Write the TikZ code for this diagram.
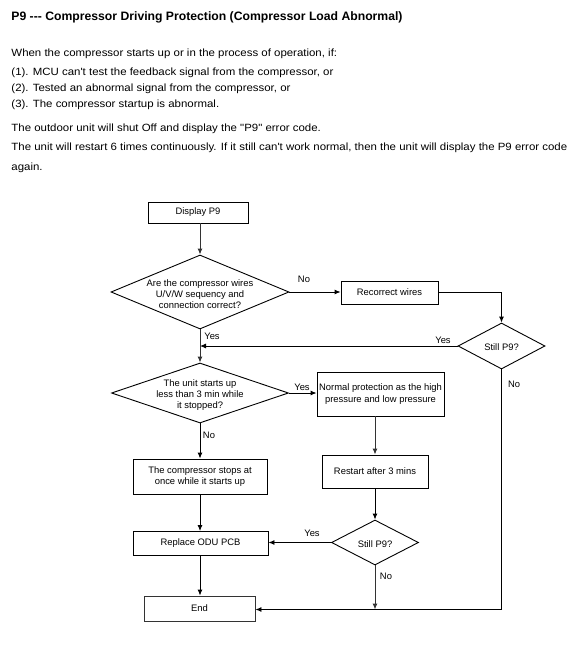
\documentclass[tikz,border=0pt]{standalone}
\usepackage{fontspec}
\setmainfont{Liberation Sans}
\newfontfamily\bodyfont[FakeStretch=1.09]{Liberation Sans}
\usetikzlibrary{arrows.meta,shapes.geometric}
\begin{document}
\begin{tikzpicture}[x=1pt,y=-1pt,
  line width=0.9pt,
  box/.style={draw=black,line width=0.9pt,rectangle,inner sep=0pt,align=center,font=\fontsize{9.4}{11.5}\selectfont},
  dia/.style={draw=black,line width=0.9pt,diamond,inner sep=0pt},
  dtext/.style={align=center,inner sep=0pt,font=\fontsize{9.4}{11}\selectfont},
  lbl/.style={inner sep=0pt,font=\fontsize{9.4}{10}\selectfont},
  body/.style={anchor=base west,inner sep=0pt,font=\bodyfont\fontsize{10.5}{12}\selectfont},
  arr/.style={-{Latex[length=6pt,width=5pt]},line width=0.9pt},
  gl/.style={draw=black!80,line width=1pt}
]
\useasboundingbox (0,0) rectangle (586,663);
\fill[white] (0,0) rectangle (586,663);

% header text
\node[body,font=\fontsize{12.2}{14}\selectfont\bfseries] (title) at (11,21) {P9 {-}{-}{-} Compressor Driving Protection (Compressor Load Abnormal)};
\node[body] (t1) at (11,57) {When the compressor starts up or in the process of operation, if:};
\node[body] (t2) at (11,76) {(1). MCU can't test the feedback signal from the compressor, or};
\node[body] (t3) at (11,92) {(2). Tested an abnormal signal from the compressor, or};
\node[body] (t4) at (11,108) {(3). The compressor startup is abnormal.};
\node[body] (t5) at (11,132) {The outdoor unit will shut Off and display the "P9" error code.};
\node[body] (t6) at (11,151) {The unit will restart 6 times continuously. If it still can't work normal, then the unit will display the P9 error code};
\node[body] (t7) at (11,171) {again.};

% flowchart nodes
\node[box,minimum width=100pt,minimum height=21pt] (disp) at (198,212.5) {Display P9};
\node[dia,minimum width=178pt,minimum height=74pt] (d1) at (200,292) {};
\node[dtext] (d1t) at (200,294.5) {Are the compressor wires\\U/V/W sequency and\\connection correct?};
\node[box,minimum width=97pt,minimum height=23pt] (recw) at (389.5,292.5) {Recorrect wires};
\node[dia,minimum width=87pt,minimum height=46pt] (s1) at (501.5,346) {};
\node[dtext] (s1t) at (501.5,347) {Still P9?};
\node[dia,minimum width=177pt,minimum height=60pt] (d2) at (200,393) {};
\node[dtext] (d2t) at (200,395) {The unit starts up\\less than 3 min while\\it stopped?};
\node[box,minimum width=127pt,minimum height=44pt] (norm) at (380.5,394) {Normal protection as the high\\pressure and low pressure};
\node[box,minimum width=106pt,minimum height=33pt] (restart) at (375,471.5) {Restart after 3 mins};
\node[box,minimum width=134pt,minimum height=35pt] (comp) at (200,476.5) {The compressor stops at\\once while it starts up};
\node[dia,minimum width=87pt,minimum height=45pt] (s2) at (375,542.5) {};
\node[dtext] (s2t) at (375,544) {Still P9?};
\node[box,minimum width=135pt,minimum height=24pt] (repl) at (200.5,543.5) {Replace ODU PCB};
\node[box,minimum width=111pt,minimum height=25pt,draw=black!80] (end) at (199.5,608.5) {End};

\coordinate (j1) at (200,346);
\coordinate (j2) at (375,609.5);

% connectors
\draw[arr,gl] (d1.north |- disp.south) -- (d1.north);
\draw[arr] (d1.east) -- (d1.east -| recw.west);
\draw[arr] (recw.east) -| (s1.north);
\draw[arr] (s1.west) -- (j1);
\draw[arr,gl] (d1.south) -- (d2.north);
\draw[arr] (d2.east) -- (d2.east -| norm.west);
\draw[arr] (d2.south) -- (comp.north);
\draw[arr,gl] (restart.north |- norm.south) -- (restart.north);
\draw[arr] (restart.south) -- (s2.north);
\draw[arr] (s2.west) -- (s2.west -| repl.east);
\draw[arr,gl] (s2.south) -- (j2);
\draw[arr] (comp.south) -- (comp.south |- repl.north);
\draw[arr] (comp.south |- repl.south) -- (comp.south |- end.north);
\draw[arr] (s1.south) |- (j2 -| end.east);

% labels
\node[lbl] (lno1) at (304,279) {No};
\node[lbl] (lyes1) at (212,336) {Yes};
\node[lbl] (lyes2) at (443,340) {Yes};
\node[lbl] (lno2) at (514,384) {No};
\node[lbl] (lyes3) at (302,387) {Yes};
\node[lbl] (lno3) at (209,435) {No};
\node[lbl] (lyes4) at (312,533) {Yes};
\node[lbl] (lno4) at (386,576) {No};
\end{tikzpicture}
\end{document}
